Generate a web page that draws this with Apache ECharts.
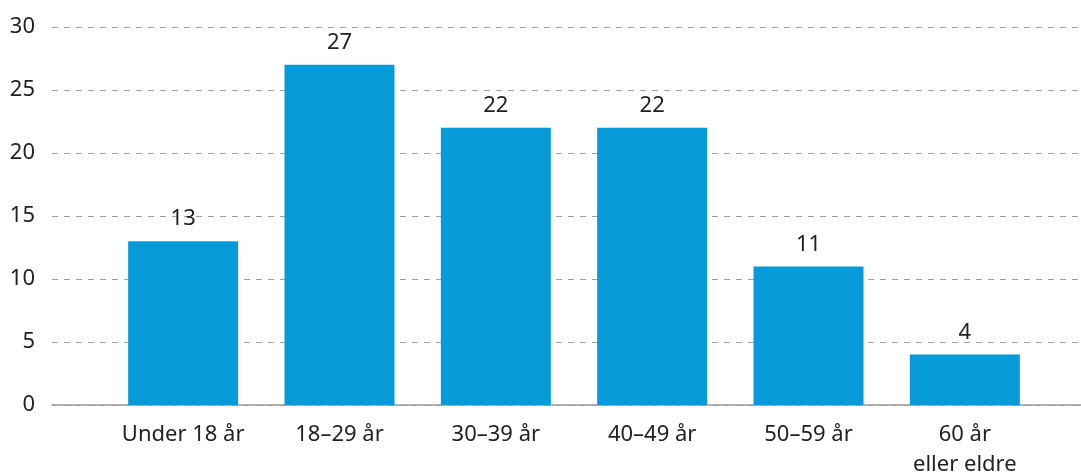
<!DOCTYPE html>
<html><head><meta charset="utf-8">
<script src="https://cdn.jsdelivr.net/npm/echarts@6/dist/echarts.min.js"></script>
<style>html,body{margin:0;padding:0;background:#fff}#c{width:1081px;height:474px}</style>
</head><body><div id="c"></div>
<script>
const categories = ['Under 18 år', '18–29 år', '30–39 år', '40–49 år', '50–59 år', '60 år\neller eldre'];
const values = [13, 27, 22, 22, 11, 4];
const yTicks = { min: 0, max: 30, interval: 5 };

const FONT = '"Noto Sans", sans-serif';
const TXT = '#222';
const chart = echarts.init(document.getElementById('c'));
chart.setOption({
  animation: false,
  textStyle: { fontFamily: FONT },
  grid: [
    { left: 52, right: 0, top: 27, bottom: 69, containLabel: false, outerBoundsMode: 'none' },
    { left: 105, right: 38, top: 27, bottom: 69, containLabel: false, outerBoundsMode: 'none' }
  ],
  xAxis: [
    { gridIndex: 0, type: 'value', min: 0, max: 1,
      axisLine: { show: true, onZero: false, lineStyle: { color: '#9a9a9a', width: 1.5 } },
      axisTick: { show: false }, axisLabel: { show: false }, splitLine: { show: false } },
    { gridIndex: 1, type: 'category', data: categories,
      axisLine: { show: false }, axisTick: { show: false },
      axisLabel: { color: TXT, fontSize: 22, fontFamily: FONT, margin: 15, lineHeight: 30, interval: 0 } }
  ],
  yAxis: [
    { gridIndex: 0, type: 'value', min: yTicks.min, max: yTicks.max, interval: yTicks.interval,
      axisLine: { show: false }, axisTick: { show: false },
      axisLabel: { color: TXT, fontSize: 22, fontFamily: FONT, margin: 17 },
      splitLine: { show: true, lineStyle: { color: '#a0a0a0', type: [6, 6], width: 1 } } },
    { gridIndex: 1, type: 'value', min: yTicks.min, max: yTicks.max, interval: yTicks.interval,
      show: false, splitLine: { show: false } }
  ],
  series: [{
    type: 'bar', xAxisIndex: 1, yAxisIndex: 1, data: values,
    barWidth: 110,
    itemStyle: { color: '#069bd8' },
    label: { show: true, position: 'top', distance: 11, color: TXT, fontSize: 22, fontFamily: FONT }
  }]
});
</script></body></html>
